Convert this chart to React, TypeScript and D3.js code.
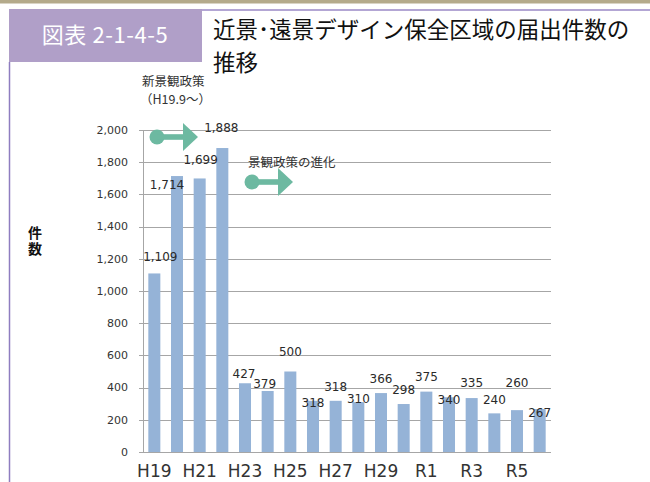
import React from "react";
import * as d3 from "d3";

const categories = ["H19","H20","H21","H22","H23","H24","H25","H26","H27","H28","H29","H30","R1","R2","R3","R4","R5","R6"];
const values = [1109,1714,1699,1888,427,379,500,318,318,310,366,298,375,340,335,240,260,267];
const xTickLabels = ["H19","H21","H23","H25","H27","H29","R1","R3","R5"];
const yTicks = [0,200,400,600,800,1000,1200,1400,1600,1800,2000];
// label placement offsets relative to the bar top (pixels), as in the source layout
const labelDx = [6,-10,1,-1,-1,-3,0,0,0,0,0,0,0,0,0,0,0,0];
const labelDy = [-17,9,-19,-20,-9,-7,-20,2,-14,-3,-14,-14,-15,3,-15,-14,-27,4];

const title1a = "近景";
const title1b = "･";
const title1c = "遠景デザイン保全区域の届出件数の";
const title2 = "推移";
const figNo = "図表 2-1-4-5";
const yTitle = "件数";
const note1a = "新景観政策";
const note1b = "（H19.9～）";
const note2 = "景観政策の進化";

const W = 650, H = 482;
const NUM_FONT = "'DejaVu Sans', Verdana, sans-serif";
const JP_FONT = "'Noto Sans CJK JP', sans-serif";

function Arrow({ cx, cy }: { cx: number; cy: number }) {
  const c = "#6db9a1";
  return (
    <g fill={c}>
      <circle cx={cx} cy={cy} r={7.5} />
      <rect x={cx} y={cy - 2.8} width={27} height={5.6} />
      <path d={`M${cx + 26},${cy - 14} L${cx + 41},${cy} L${cx + 26},${cy + 14} Z`} />
    </g>
  );
}

export default function App() {
  const x = d3.scaleBand<string>().domain(categories).range([143, 551]).paddingInner(0.47).paddingOuter(0.235);
  const y = d3.scaleLinear().domain([0, 2000]).range([452, 130]);
  const fmt = d3.format(",");
  return (
    <svg width={W} height={H} style={{ position: "absolute", left: 0, top: 0, background: "#fff" }}>
      <rect x={0} y={0} width={W} height={H} fill="#fff" />
      <rect x={0} y={0} width={W} height={3.5} fill="#b4aa8b" />
      <rect x={9} y={9} width={193} height={53} fill="#b09fc8" />
      <line x1={202} y1={10} x2={W} y2={10} stroke="#9a89c6" strokeWidth={1.3} />
      <line x1={9.5} y1={62} x2={9.5} y2={H} stroke="#8e7dc0" strokeWidth={1.5} />
      <text x={105} y={43} textAnchor="middle" fill="#fff" fontSize={22} fontFamily={JP_FONT} letterSpacing={0.6}>{figNo}</text>
      <text x={213} y={38} fill="#111" fontSize={22.5} fontFamily={JP_FONT}>
        <tspan>{title1a}</tspan>
        <tspan>{title1b}</tspan>
        <tspan>{title1c}</tspan>
      </text>
      <text x={213} y={71} fill="#111" fontSize={22.5} fontFamily={JP_FONT}>{title2}</text>

      {/* gridlines */}
      {yTicks.map((t) => (
        <line key={t} x1={139} x2={551} y1={Math.round(y(t)) + 0.5} y2={Math.round(y(t)) + 0.5} stroke="#a6a6a6" strokeWidth={1} />
      ))}
      <line x1={143.5} x2={143.5} y1={y(2000)} y2={y(0)} stroke="#a6a6a6" strokeWidth={1} />
      {yTicks.map((t) => (
        <text key={"l" + t} x={128} y={y(t)} dy="0.35em" textAnchor="end" fontSize={11} fill="#333" fontFamily={NUM_FONT}>{fmt(t)}</text>
      ))}

      {/* bars */}
      {categories.map((c, i) => (
        <rect key={c} x={x(c)} y={y(values[i])} width={x.bandwidth()} height={y(0) - y(values[i])} fill="#95b3d7" />
      ))}
      {categories.map((c, i) => (
        <text key={"v" + c} x={(x(c) as number) + x.bandwidth() / 2 + labelDx[i]} y={y(values[i]) + labelDy[i]} dy="0.35em" textAnchor="middle" fontSize={12} fill="#2a2a2a" fontFamily={NUM_FONT}>{fmt(values[i])}</text>
      ))}

      {/* x labels */}
      {xTickLabels.map((c) => (
        <text key={"x" + c} x={(x(c) as number) + x.bandwidth() / 2} y={477} textAnchor="middle" fontSize={17} fill="#333" fontFamily={NUM_FONT}>{c}</text>
      ))}

      {/* y axis title (vertical) */}
      <text x={35} y={226} fontSize={14} fontWeight="bold" fill="#111" fontFamily={JP_FONT} letterSpacing={2} style={{ writingMode: "vertical-rl" }}>{yTitle}</text>

      {/* annotations */}
      <text x={142} y={86} fontSize={12.5} fill="#333" fontFamily={JP_FONT}>{note1a}</text>
      <text x={140} y={104} fontSize={12.5} fill="#333" fontFamily={JP_FONT}>{note1b}</text>
      <Arrow cx={157} cy={137} />
      <text x={248} y={167} fontSize={12.5} fill="#333" fontFamily={JP_FONT}>{note2}</text>
      <Arrow cx={252} cy={182} />
    </svg>
  );
}
